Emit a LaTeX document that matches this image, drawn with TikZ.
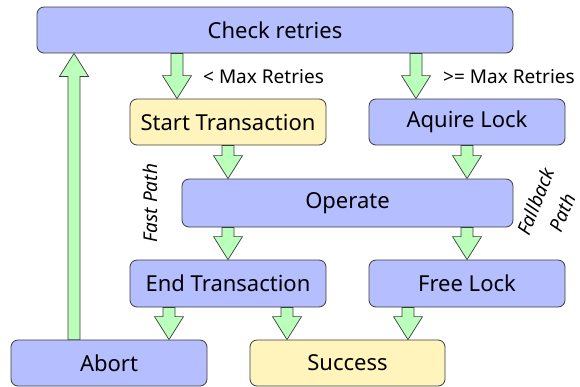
\documentclass[tikz,border=0pt]{standalone}
\usepackage{fontspec}
\setmainfont{Noto Sans}
\usetikzlibrary{calc}
\definecolor{boxblue}{RGB}{181,190,255}
\definecolor{boxyellow}{RGB}{255,244,187}
\definecolor{arrgreen}{RGB}{186,255,186}
\definecolor{edge}{RGB}{60,60,60}
\tikzset{
  box/.style={draw=edge, line width=0.8pt, rounded corners=7pt, fill=boxblue,
    inner sep=0pt, font=\fontsize{22}{26}\selectfont, text=black},
  ybox/.style={box, fill=boxyellow},
  fat/.style={draw=edge, line width=0.7pt, fill=arrgreen, line join=miter},
  lbl/.style={inner sep=0pt, font=\fontsize{19}{22}\selectfont, text=black},
  ilbl/.style={lbl, font=\fontsize{19}{29}\selectfont\itshape}
}
\newcommand\fatarrow[2]{%
  \filldraw[fat] let \p1=(#1), \p2=(#2), \n1={ifthenelse(\y2<\y1,1,-1)} in
   (\x2-6pt,\y1) -- (\x2-6pt,\y2+\n1*23pt) -- (\x2-14.5pt,\y2+\n1*23pt) -- (\x2,\y2)
   -- (\x2+14.5pt,\y2+\n1*23pt) -- (\x2+6pt,\y2+\n1*23pt) -- (\x2+6pt,\y1) -- cycle;}
\begin{document}
\begin{tikzpicture}[x=1pt,y=-1pt]
\useasboundingbox (0,0) rectangle (580,386);
\node[box, minimum width=476pt, minimum height=46pt] (check) at (275,30) {Check retries};
\node[ybox, minimum width=196pt, minimum height=46pt] (start) at (228,122) {Start Transaction};
\node[box, minimum width=196pt, minimum height=46pt] (aq) at (467,122) {Aquire Lock};
\node[box, minimum width=331pt, minimum height=48pt] (op) at (347.5,203) {Operate};
\node[box, minimum width=196pt, minimum height=47pt] (end) at (228,283.5) {End Transaction};
\node[box, minimum width=196pt, minimum height=47pt] (free) at (467,283.5) {Free Lock};
\node[box, minimum width=196pt, minimum height=46pt] (abort) at (109,363) {Abort};
\node[ybox, minimum width=195pt, minimum height=46pt] (succ) at (347.5,363) {Success};

\fatarrow{check.south}{[xshift=-51pt]start.north}
\fatarrow{check.south}{[xshift=-51pt]aq.north}
\fatarrow{start.south}{op.north -| start}
\fatarrow{aq.south}{op.north -| aq}
\fatarrow{op.south}{end.north}
\fatarrow{op.south}{free.north}
\fatarrow{end.south}{[xshift=60pt]abort.north}
\fatarrow{end.south}{[xshift=-60.5pt]succ.north}
\fatarrow{free.south}{[xshift=60.5pt]succ.north}
\fatarrow{abort.north}{[xshift=-201pt]check.south}

\node[lbl, anchor=base west] (l1) at (203,83) {< Max Retries};
\node[lbl, anchor=base west] (l2) at (443,83) {>= Max Retries};
\node[ilbl, rotate=90] (fast) at (150,203) {Fast Path};
\node[ilbl, rotate=68, align=center] (fb) at (549,207) {Fallback\\Path};
\end{tikzpicture}
\end{document}
